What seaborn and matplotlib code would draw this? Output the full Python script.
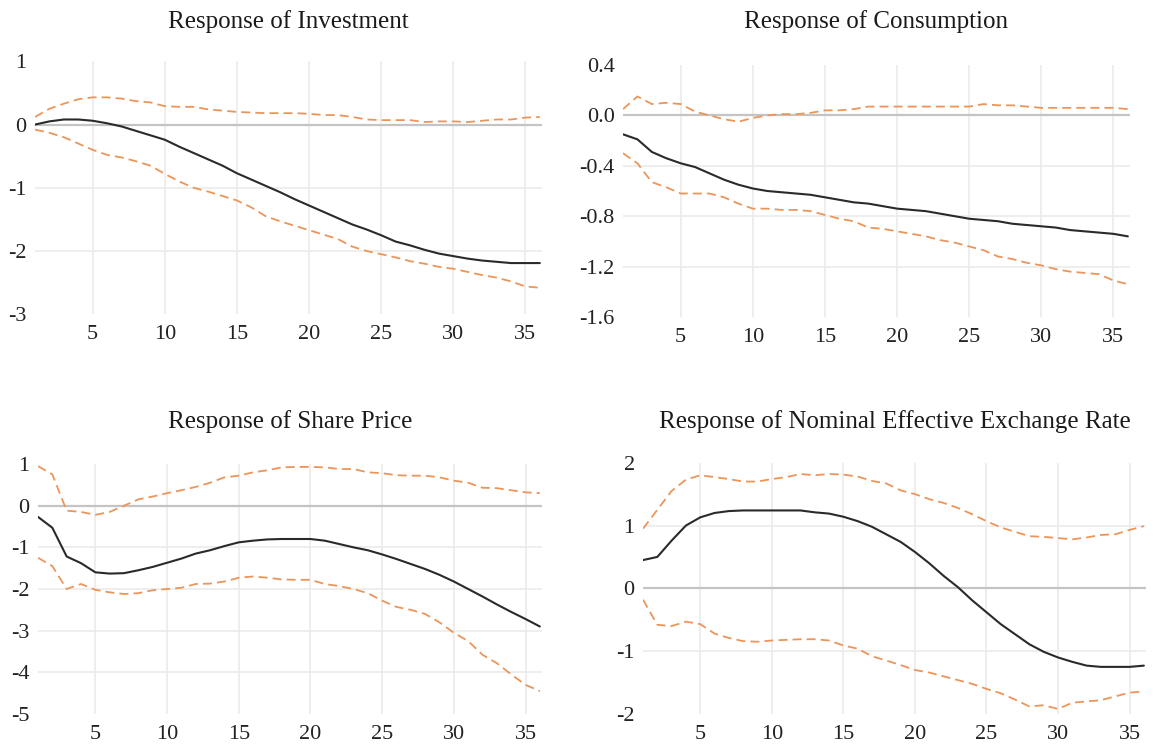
import matplotlib
matplotlib.use("Agg")
import matplotlib.pyplot as plt
import seaborn as sns
import numpy as np

sns.set_theme(style="white")
plt.rcParams["font.family"] = ["Liberation Serif", "DejaVu Serif"]

periods = np.arange(1, 37)

# Response of Investment
inv_irf = [0.00, 0.05, 0.08, 0.08, 0.06, 0.02, -0.03, -0.10, -0.17, -0.24,
           -0.35, -0.45, -0.55, -0.65, -0.77, -0.87, -0.97, -1.07, -1.18, -1.28,
           -1.38, -1.48, -1.58, -1.66, -1.75, -1.85, -1.91, -1.98, -2.04, -2.08,
           -2.12, -2.15, -2.17, -2.19, -2.19, -2.19]
inv_up = [0.12, 0.25, 0.33, 0.40, 0.43, 0.43, 0.41, 0.37, 0.35, 0.29,
          0.28, 0.28, 0.24, 0.22, 0.20, 0.19, 0.18, 0.18, 0.18, 0.17,
          0.15, 0.15, 0.12, 0.08, 0.07, 0.07, 0.07, 0.04, 0.05, 0.05,
          0.04, 0.06, 0.08, 0.08, 0.11, 0.12]
inv_lo = [-0.08, -0.13, -0.20, -0.30, -0.40, -0.48, -0.52, -0.58, -0.65, -0.78,
          -0.90, -1.00, -1.06, -1.13, -1.20, -1.31, -1.45, -1.53, -1.60, -1.67,
          -1.74, -1.81, -1.93, -2.00, -2.05, -2.10, -2.16, -2.20, -2.25, -2.28,
          -2.33, -2.38, -2.42, -2.48, -2.56, -2.58]

# Response of Consumption
con_irf = [-0.15, -0.19, -0.29, -0.34, -0.38, -0.41, -0.46, -0.51, -0.55, -0.58,
           -0.60, -0.61, -0.62, -0.63, -0.65, -0.67, -0.69, -0.70, -0.72, -0.74,
           -0.75, -0.76, -0.78, -0.80, -0.82, -0.83, -0.84, -0.86, -0.87, -0.88,
           -0.89, -0.91, -0.92, -0.93, -0.94, -0.96]
con_up = [0.05, 0.15, 0.09, 0.10, 0.09, 0.03, 0.00, -0.03, -0.05, -0.02,
          0.00, 0.01, 0.01, 0.02, 0.04, 0.04, 0.05, 0.07, 0.07, 0.07,
          0.07, 0.07, 0.07, 0.07, 0.07, 0.09, 0.08, 0.08, 0.07, 0.06,
          0.06, 0.06, 0.06, 0.06, 0.06, 0.05]
con_lo = [-0.30, -0.38, -0.53, -0.57, -0.62, -0.62, -0.62, -0.65, -0.70, -0.74,
          -0.74, -0.75, -0.75, -0.76, -0.79, -0.82, -0.84, -0.89, -0.90, -0.92,
          -0.94, -0.96, -0.99, -1.01, -1.04, -1.07, -1.12, -1.14, -1.17, -1.19,
          -1.22, -1.24, -1.25, -1.26, -1.31, -1.34]

# Response of Share Price
shp_irf = [-0.27, -0.53, -1.22, -1.38, -1.60, -1.63, -1.62, -1.55, -1.47, -1.37,
           -1.27, -1.15, -1.07, -0.97, -0.88, -0.84, -0.81, -0.80, -0.80, -0.80,
           -0.84, -0.92, -1.00, -1.07, -1.17, -1.28, -1.40, -1.52, -1.66, -1.82,
           -2.00, -2.18, -2.37, -2.55, -2.72, -2.90]
shp_up = [0.95, 0.75, -0.12, -0.15, -0.22, -0.15, 0.00, 0.15, 0.22, 0.30,
          0.37, 0.45, 0.55, 0.68, 0.72, 0.80, 0.85, 0.92, 0.93, 0.93,
          0.92, 0.88, 0.88, 0.80, 0.78, 0.73, 0.72, 0.72, 0.68, 0.60,
          0.55, 0.43, 0.42, 0.37, 0.32, 0.30]
shp_lo = [-1.25, -1.45, -2.00, -1.88, -2.02, -2.08, -2.12, -2.10, -2.03, -2.00,
          -1.97, -1.88, -1.87, -1.82, -1.73, -1.70, -1.73, -1.77, -1.78, -1.78,
          -1.88, -1.93, -2.00, -2.10, -2.28, -2.43, -2.50, -2.60, -2.80, -3.05,
          -3.25, -3.58, -3.78, -4.05, -4.30, -4.45]

# Response of Nominal Effective Exchange Rate
neer_irf = [0.45, 0.50, 0.76, 1.00, 1.13, 1.20, 1.23, 1.24, 1.24, 1.24,
            1.24, 1.24, 1.21, 1.19, 1.14, 1.07, 0.98, 0.86, 0.74, 0.58,
            0.40, 0.20, 0.02, -0.19, -0.38, -0.57, -0.73, -0.89, -1.01, -1.10,
            -1.17, -1.23, -1.25, -1.25, -1.25, -1.23]
neer_up = [0.95, 1.25, 1.55, 1.73, 1.80, 1.77, 1.74, 1.70, 1.70, 1.74,
           1.77, 1.82, 1.80, 1.82, 1.81, 1.78, 1.71, 1.67, 1.56, 1.50,
           1.42, 1.36, 1.28, 1.18, 1.07, 0.97, 0.90, 0.83, 0.82, 0.80,
           0.78, 0.81, 0.85, 0.86, 0.93, 0.99]
neer_lo = [-0.18, -0.58, -0.60, -0.53, -0.57, -0.72, -0.79, -0.84, -0.85, -0.83,
           -0.82, -0.81, -0.81, -0.83, -0.91, -0.96, -1.08, -1.15, -1.22, -1.30,
           -1.34, -1.40, -1.46, -1.52, -1.60, -1.67, -1.77, -1.88, -1.86, -1.92,
           -1.82, -1.80, -1.78, -1.72, -1.66, -1.64]

titles = ["Response of Investment", "Response of Consumption",
          "Response of Share Price", "Response of Nominal Effective Exchange Rate"]
yticks = [[1, 0, -1, -2, -3],
          [0.4, 0.0, -0.4, -0.8, -1.2, -1.6],
          [1, 0, -1, -2, -3, -4, -5],
          [2, 1, 0, -1, -2]]
ylabels = [["1", "0", "-1", "-2", "-3"],
           ["0.4", "0.0", "-0.4", "-0.8", "-1.2", "-1.6"],
           ["1", "0", "-1", "-2", "-3", "-4", "-5"],
           ["2", "1", "0", "-1", "-2"]]
xticks = [5, 10, 15, 20, 25, 30, 35]

series = [(inv_irf, inv_up, inv_lo), (con_irf, con_up, con_lo),
          (shp_irf, shp_up, shp_lo), (neer_irf, neer_up, neer_lo)]

W, H = 1153, 747
# cajas de los ejes en pixeles: izquierda, derecha, arriba, abajo
boxes = [(35, 542, 61.3, 314.3), (623, 1130, 65, 317),
         (38, 542, 464, 714), (643, 1146, 462.7, 714)]
title_base = [27.7, 27.7, 428.3, 428.3]

fig = plt.figure(figsize=(W / 100, H / 100), dpi=100)

for i, (l, r, t, b) in enumerate(boxes):
    ax = fig.add_axes([l / W, 1 - b / H, (r - l) / W, (b - t) / H])
    irf, up, lo = series[i]
    ax.axhline(0, color="#c4c4c4", lw=1.6, zorder=1)
    sns.lineplot(x=periods, y=irf, ax=ax, color="#2a2a2a", lw=1.5, zorder=3)
    for band in (up, lo):
        sns.lineplot(x=periods, y=band, ax=ax, color="#ec955a", lw=1.3,
                     linestyle=(0, (5, 2.8)), zorder=2)
    ax.set_xlim(1, 36.15)
    yt = yticks[i]
    ax.set_ylim(min(yt), max(yt))
    ax.set_yticks(yt)
    ax.set_yticklabels(ylabels[i])
    ax.set_xticks(xticks)
    ax.set_xticklabels([str(v) for v in xticks])
    ax.grid(True, color="#ebebeb", lw=1.2)
    ygl = ax.get_ygridlines()
    for k, val in enumerate(yt):
        if val == max(yt) or val == min(yt):
            ygl[k].set_visible(False)
    for s in ax.spines.values():
        s.set_visible(False)
    ax.tick_params(axis="both", length=0, labelsize=16, colors="#222222")
    ax.tick_params(axis="x", pad=8)
    ax.tick_params(axis="y", pad=6)
    ax.set_xlabel("")
    ax.set_ylabel("")
    fig.text((l + r) / 2 / W, 1 - title_base[i] / H, titles[i], ha="center",
             va="baseline", fontsize=18, color="#1a1a1a")

fig.savefig("out.png", dpi=100)
